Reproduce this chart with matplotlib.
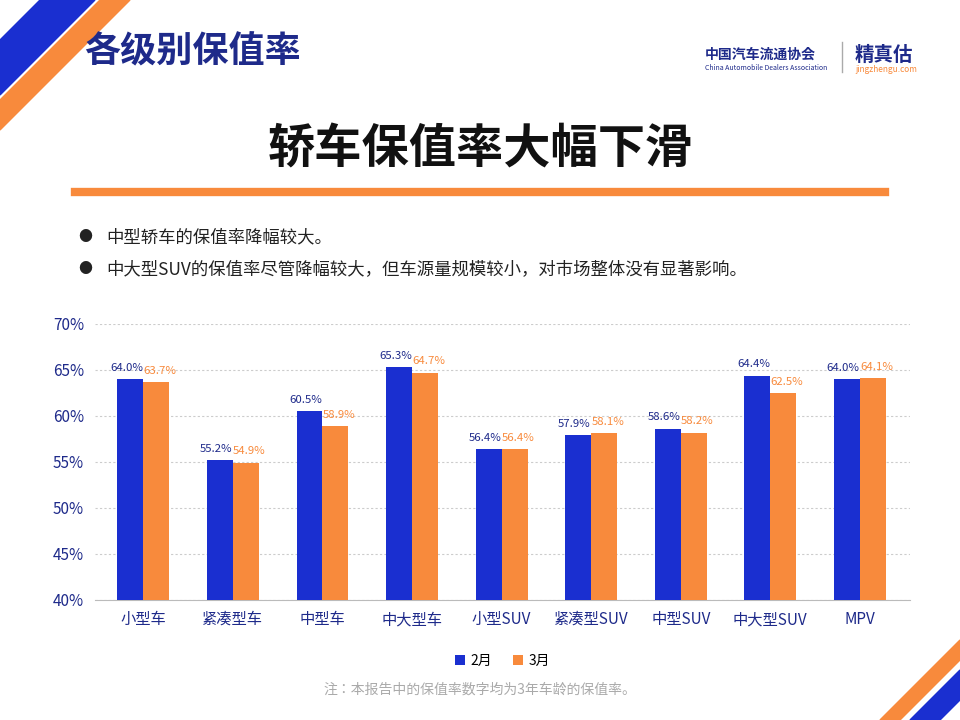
import matplotlib
matplotlib.use("Agg")
import matplotlib.pyplot as plt
from matplotlib.patches import Polygon
from matplotlib import font_manager
import numpy as np

names = sorted({f.name for f in font_manager.fontManager.ttflist})
cjk = [n for n in names if "CJK" in n and ("SC" in n)] or [n for n in names if "CJK" in n]
plt.rcParams["font.family"] = cjk[:1] + ["DejaVu Sans"]

categories = ["小型车", "紧凑型车", "中型车", "中大型车", "小型SUV", "紧凑型SUV", "中型SUV", "中大型SUV", "MPV"]
feb = [64.0, 55.2, 60.5, 65.3, 56.4, 57.9, 58.6, 64.4, 64.0]
mar = [63.7, 54.9, 58.9, 64.7, 56.4, 58.1, 58.2, 62.5, 64.1]
yticks = [40, 45, 50, 55, 60, 65, 70]

BLUE = "#1a2fd0"
ORANGE = "#f88a3c"
NAVY = "#1e2a8a"

fig = plt.figure(figsize=(9.6, 7.2), dpi=100)
W, H = 960, 720
def fx(x): return x / W
def fy(y): return 1 - y / H

for pts, c in [([(0, 40), (0, 95), (95, 0), (40, 0)], BLUE),
               ([(0, 100), (0, 130), (130, 0), (100, 0)], ORANGE),
               ([(960, 640), (960, 660), (900, 720), (880, 720)], ORANGE),
               ([(960, 670), (960, 700), (940, 720), (910, 720)], BLUE)]:
    fig.patches.append(Polygon([(fx(a), fy(b)) for a, b in pts], closed=True,
                               transform=fig.transFigure, color=c, zorder=0))

fig.text(fx(84), fy(52), "各级别保值率", fontsize=26, fontweight="bold", color=NAVY, va="center")
fig.text(fx(705), fy(55), "中国汽车流通协会", fontsize=10, fontweight="bold", color=NAVY, va="center")
fig.text(fx(705), fy(68), "China Automobile Dealers Association", fontsize=5, color=NAVY, va="center")
fig.text(fx(855), fy(55), "精真估", fontsize=14, fontweight="bold", color=NAVY, va="center")
fig.text(fx(855), fy(70), "jingzhengu.com", fontsize=6, color=ORANGE, va="center")
fig.add_artist(plt.Line2D([fx(842), fx(842)], [fy(42), fy(72)], color="#aaaaaa", lw=1))

fig.text(0.5, fy(150), "轿车保值率大幅下滑", fontsize=34, fontweight="bold", color="#111111", ha="center", va="center")
fig.add_artist(plt.Line2D([fx(75), fx(885)], [fy(192), fy(192)], color=ORANGE, lw=6))

for yy, t in [(237, "中型轿车的保值率降幅较大。"),
              (269, "中大型SUV的保值率尽管降幅较大，但车源量规模较小，对市场整体没有显著影响。")]:
    fig.text(fx(78), fy(yy), "●", fontsize=10, color="#222222", va="center")
    fig.text(fx(106), fy(yy), t, fontsize=12.5, color="#222222", va="center")

ax = fig.add_axes([fx(95), fy(600), fx(910) - fx(95), fy(324) - fy(600)])
x = np.arange(len(categories))
w = 0.29
ax.bar(x - w / 2, feb, w, color=BLUE, label="2月", zorder=3)
ax.bar(x + w / 2, mar, w, color=ORANGE, label="3月", zorder=3)
for i in range(len(categories)):
    ax.text(x[i] - w / 2 - 0.04, feb[i] + 0.7, f"{feb[i]:.1f}%", ha="center", va="bottom", fontsize=8.2, color=NAVY)
    ax.text(x[i] + w / 2 + 0.04, mar[i] + 0.7, f"{mar[i]:.1f}%", ha="center", va="bottom", fontsize=8.2, color=ORANGE)
ax.set_ylim(40, 70)
ax.set_xlim(-0.54, 8.56)
ax.set_yticks(yticks)
ax.set_yticklabels([f"{v}%" for v in yticks], color=NAVY, fontsize=11)
ax.set_xticks(x)
ax.set_xticklabels(categories, color=NAVY, fontsize=11)
ax.tick_params(length=0, pad=8)
ax.grid(axis="y", color="#cccccc", ls=(0, (2, 2)), lw=0.8, zorder=0)
for s in ["top", "right", "left"]:
    ax.spines[s].set_visible(False)
ax.spines["bottom"].set_color("#bbbbbb")
ax.legend(loc="center", bbox_to_anchor=(0.5, -0.22), ncol=2, frameon=False, fontsize=10,
          handlelength=0.7, handleheight=0.7, columnspacing=1.5, handletextpad=0.4)

fig.text(0.5, fy(690), "注：本报告中的保值率数字均为3年车龄的保值率。", fontsize=10, color="#aaaaaa", ha="center", va="center")
fig.savefig("out.png", dpi=100)
